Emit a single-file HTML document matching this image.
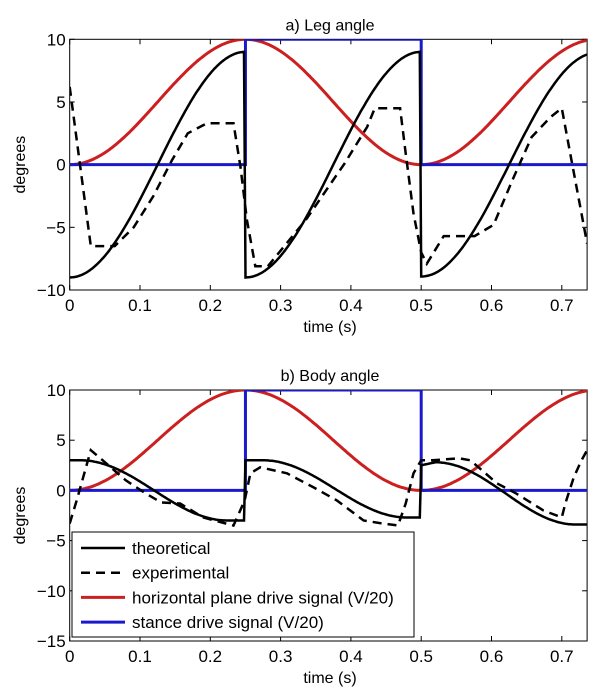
<!DOCTYPE html>
<html><head><meta charset="utf-8"><style>
html,body{margin:0;padding:0;background:#fff;}
svg{display:block;font-family:"Liberation Sans",sans-serif;}
</style></head><body>
<svg id="s" width="600" height="700" viewBox="0 0 600 700" xmlns="http://www.w3.org/2000/svg"></svg>
<script>
const S=document.getElementById('s');let h='';
const X0=69.7,PX=703;
const TMAX=0.736;
function cosPiece(t,a,b,v0,v1){let u=(t-a)/(b-a);u=Math.max(0,Math.min(1,u));return v0+(v1-v0)*(1-Math.cos(Math.PI*u))/2;}
function plot(top,bot,ymax,ymin,title,yticks,theo,dash,legend,off){
  const X=t=>X0+t*PX, Y=v=>top+(ymax-v)/(ymax-ymin)*(bot-top);
  const XR=X(TMAX);
  h+=`<defs><clipPath id="c${off}"><rect x="${X0}" y="${top}" width="${XR-X0}" height="${bot-top}"/></clipPath></defs>`;
  h+=`<text x="330" y="${top-9}" font-size="16" text-anchor="middle">${title}</text>`;
  h+=`<rect x="${X0}" y="${top}" width="${XR-X0}" height="${bot-top}" fill="none" stroke="#000" stroke-width="1"/>`;
  for(let i=0;i<=7;i++){const x=X(i/10);h+=`<line x1="${x}" y1="${bot}" x2="${x}" y2="${bot-5}" stroke="#000"/><line x1="${x}" y1="${top}" x2="${x}" y2="${top+5}" stroke="#000"/><text x="${x}" y="${bot+21}" font-size="17" text-anchor="middle">${i==0?'0':(i/10).toFixed(1)}</text>`;}
  yticks.forEach(v=>{const y=Y(v);h+=`<line x1="${X0}" y1="${y}" x2="${X0+5}" y2="${y}" stroke="#000"/><line x1="${XR}" y1="${y}" x2="${XR-5}" y2="${y}" stroke="#000"/><text x="${X0-4}" y="${y+6}" font-size="17" text-anchor="end">${v<0?'\u2212'+(-v):v}</text>`;});
  h+=`<text x="330" y="${bot+42}" font-size="16" text-anchor="middle">time (s)</text>`;
  h+=`<text transform="translate(25,${(top+bot)/2}) rotate(-90)" font-size="16" text-anchor="middle">degrees</text>`;
  h+=`<g clip-path="url(#c${off})">`;
  let p=[];for(let t=0;t<=TMAX+0.001;t+=0.002){p.push(X(t).toFixed(1)+','+Y(5*(1-Math.cos(2*Math.PI*t/0.5))).toFixed(1));}
  h+=`<polyline points="${p.join(' ')}" fill="none" stroke="#cc1f1f" stroke-width="3"/>`;
  h+=`<polyline points="${X(0)},${Y(0)} ${X(0.25)},${Y(0)} ${X(0.25)},${Y(10)} ${X(0.5)},${Y(10)} ${X(0.5)},${Y(0)} ${X(0.8)},${Y(0)}" fill="none" stroke="#1a1acc" stroke-width="3"/>`;
  p=[];for(let t=0;t<=TMAX+0.001;t+=0.002){p.push(X(t).toFixed(1)+','+Y(theo(t)).toFixed(1));}
  h+=`<polyline points="${p.join(' ')}" fill="none" stroke="#000" stroke-width="2.5"/>`;
  h+=`<polyline points="${dash.map(d=>X(d[0]).toFixed(1)+','+Y(d[1]).toFixed(1)).join(' ')}" fill="none" stroke="#000" stroke-width="2.5" stroke-dasharray="9,6"/>`;
  h+=`</g>`;
  if(legend){
    h+=`<rect x="72" y="532" width="342" height="105" fill="#fff" stroke="#000"/>`;
    const items=[["theoretical","#000",""],["experimental","#000","9,6"],["horizontal plane drive signal (V/20)","#cc1f1f",""],["stance drive signal (V/20)","#1a1acc",""]];
    items.forEach((it,i)=>{const y=548+i*24.7;h+=`<line x1="81" y1="${y}" x2="125" y2="${y}" stroke="${it[1]}" stroke-width="${i>1?3:2.5}" ${it[2]?'stroke-dasharray="'+it[2]+'"':''}/><text x="132" y="${y+6}" font-size="17">${it[0]}</text>`;});
  }
}
function theoTop(t){
  if(t<0.25) return -9*Math.cos(Math.PI*t/0.25);
  if(t<0.5) return -9*Math.cos(Math.PI*(t-0.25)/0.25);
  return -9.2*Math.cos(Math.PI*(t-0.5)/0.25)*0.97;
}
const dashTop=[[0,6.2],[0.0125,0.9],[0.03,-6.5],[0.064,-6.5],[0.091,-5],[0.119,-2.5],[0.146,0.4],[0.168,2.5],[0.195,3.3],[0.233,3.3],[0.243,-0.2],[0.252,-4.4],[0.264,-8.1],[0.282,-8.1],[0.336,-4.4],[0.391,0.1],[0.423,3],[0.434,4.5],[0.47,4.5],[0.478,0.9],[0.489,-3.9],[0.5,-7],[0.508,-7.9],[0.532,-5.7],[0.576,-5.7],[0.603,-4.8],[0.63,-1.2],[0.657,2.2],[0.684,3.8],[0.7,4.5],[0.712,0.9],[0.728,-3.9],[0.736,-6.3]];
function theoBot(t){
  if(t<0.25) return cosPiece(t,0.015,0.225,3,-3);
  if(t<0.5) return cosPiece(t,0.275,0.48,3,-2.7);
  if(t<0.52) return 2.5+(t-0.5)*15;
  return cosPiece(t,0.52,0.72,2.8,-3.4);
}
const dashBot=[[0,-3.3],[0.01,-1],[0.03,4],[0.042,3.3],[0.08,1],[0.108,-0.3],[0.13,-1.2],[0.157,-1.3],[0.19,-2.7],[0.222,-3.3],[0.233,-3.5],[0.249,-1],[0.257,1.7],[0.271,2.3],[0.309,1.7],[0.347,0.3],[0.38,-1],[0.418,-3],[0.445,-3.3],[0.467,-3.5],[0.478,-1.3],[0.489,1.7],[0.5,3],[0.516,3],[0.554,3.2],[0.57,3],[0.608,0.7],[0.635,-0.3],[0.674,-2],[0.7,-2.7],[0.705,-1.3],[0.717,1.3],[0.728,3],[0.736,4]];
plot(39.3,290,10,-10,"a) Leg angle",[10,5,0,-5,-10],theoTop,dashTop,false,1);
plot(390,641,10,-15,"b) Body angle",[10,5,0,-5,-10,-15],theoBot,dashBot,true,2);
S.innerHTML=h;
</script>
</body></html>
